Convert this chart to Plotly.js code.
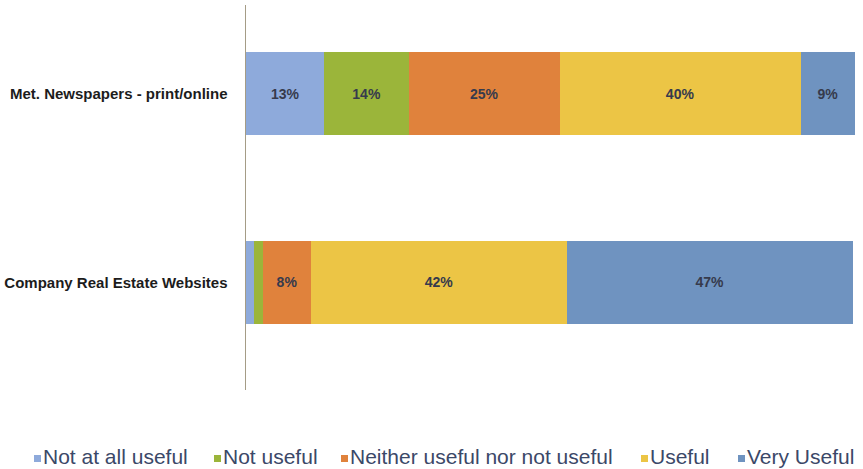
<!DOCTYPE html>
<html>
<head>
<meta charset="utf-8">
<script src="https://cdn.plot.ly/plotly-3.0.1.min.js"></script>
<style>html,body{margin:0;padding:0;background:#fff;}#chart{width:863px;height:469px;}</style>
</head>
<body>
<div id="chart"></div>
<script>
const categories = ["Met. Newspapers - print/online", "Company Real Estate Websites"];
const seriesNames = ["Not at all useful", "Not useful", "Neither useful nor not useful", "Useful", "Very Useful"];
const notAtAllUseful = [13, 1.3];
const notUseful = [14, 1.5];
const neither = [25, 8];
const useful = [40, 42.4];
const veryUseful = [9, 47.4];
const colors = ["#8eaadb", "#9bb53a", "#e0823c", "#ecc545", "#6f93c0"];

// layout geometry (pixels)
const W = 863, H = 469, ML = 246, MR = 8, MT = 5, MB = 79;
const PW = W - ML - MR, PH = H - MT - MB;
const px2x = px => (px - ML) / PW;
const py2y = py => (H - MB - py) / PH;
// legend entry left positions (pixels)
const legendMarkerX = [34, 214, 341, 641, 738];

const values = [notAtAllUseful, notUseful, neither, useful, veryUseful];
const traces = values.map((vals, i) => ({
  type: "bar",
  orientation: "h",
  name: seriesNames[i],
  y: categories,
  x: vals,
  marker: {color: colors[i], line: {width: 0}},
  text: vals.map(v => v >= 5 ? Math.round(v) + "%" : ""),
  textposition: "inside",
  insidetextanchor: "middle",
  textangle: 0,
  textfont: {family: "Liberation Sans, Arial, sans-serif", size: 14, color: "#363a4c", weight: "bold"},
  hoverinfo: "name+x",
  showlegend: false
}));

const annotations = [];
const shapes = [];
seriesNames.forEach((name, i) => {
  const mx = legendMarkerX[i];
  shapes.push({
    type: "rect", xref: "paper", yref: "paper",
    x0: px2x(mx), x1: px2x(mx + 7), y0: py2y(462), y1: py2y(455),
    fillcolor: colors[i], line: {width: 0}
  });
  annotations.push({
    xref: "paper", yref: "paper", x: px2x(mx + 8), y: py2y(456),
    xanchor: "left", yanchor: "middle", showarrow: false, borderpad: 0,
    text: name,
    font: {family: "Liberation Sans, Arial, sans-serif", size: 21, color: "#3b4868"}
  });
});

const layout = {
  width: W, height: H,
  margin: {l: ML, r: MR, t: MT, b: MB},
  paper_bgcolor: "#ffffff",
  plot_bgcolor: "#ffffff",
  barmode: "stack",
  bargap: 0.56,
  showlegend: false,
  xaxis: {range: [0, 101], showgrid: false, zeroline: false, showticklabels: false, ticks: "", showline: false, fixedrange: true},
  yaxis: {
    range: [1.57, -0.47], showgrid: false, zeroline: false, ticks: "",
    showline: true, linecolor: "#a59c86", linewidth: 1.5,
    tickfont: {family: "Liberation Sans, Arial, sans-serif", size: 15, color: "#1c1c1c", weight: "bold"},
    ticklabelstandoff: 14
  },
  annotations: annotations,
  shapes: shapes,
  uniformtext: {mode: "show", minsize: 14}
};

Plotly.newPlot("chart", traces, layout, {displayModeBar: false, staticPlot: true});
</script>
</body>
</html>
